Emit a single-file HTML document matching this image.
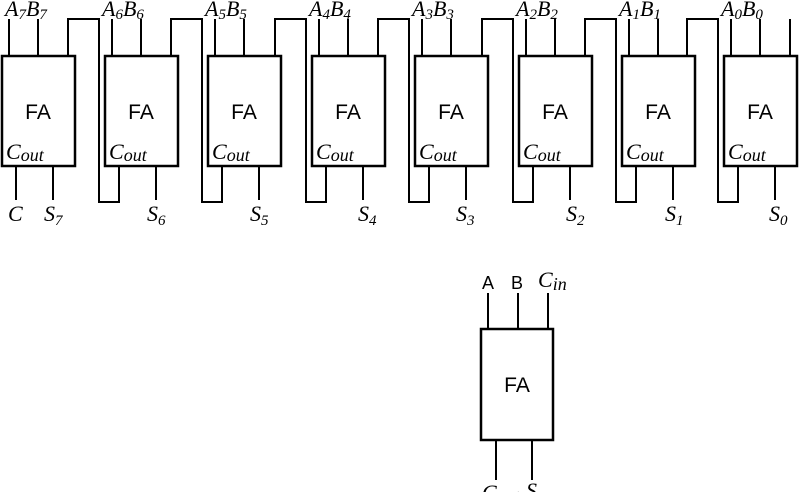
<!DOCTYPE html>
<html><head><meta charset="utf-8"><style>
html,body{margin:0;padding:0;background:#fff;}
svg{display:block;}
.l{stroke:#000;stroke-width:2;fill:none;}
.r{stroke:#000;stroke-width:2.5;fill:#fff;}
.m{font-family:"Liberation Serif",serif;font-style:italic;font-size:22px;}
.s{font-size:15px;}
.o{font-size:18px;}
.fa{font-family:"Liberation Sans",sans-serif;font-size:21px;}
</style></head><body>
<svg width="800" height="492" viewBox="0 0 800 492" xmlns="http://www.w3.org/2000/svg">
<g class="l">
<path d="M9 19V56M38 19V56M16 166V200M53 166V200"/>
<path d="M112 19V56M141 19V56M156 166V200M119 166V202H99V19H68V56"/>
<path d="M215 19V56M244 19V56M259 166V200M222 166V202H202V19H171V56"/>
<path d="M319 19V56M348 19V56M363 166V200M326 166V202H306V19H275V56"/>
<path d="M422 19V56M451 19V56M466 166V200M429 166V202H409V19H378V56"/>
<path d="M526 19V56M555 19V56M570 166V200M533 166V202H513V19H482V56"/>
<path d="M629 19V56M658 19V56M673 166V200M636 166V202H616V19H585V56"/>
<path d="M731 19V56M760 19V56M775 166V200M738 166V202H718V19H687V56M790 19V56"/>
<path d="M488 293V329M518 293V329M548 293V329M496 440V480M532 440V480"/>
</g>
<g class="r">
<rect x="2" y="56" width="73" height="110"/>
<rect x="105" y="56" width="73" height="110"/>
<rect x="208" y="56" width="73" height="110"/>
<rect x="312" y="56" width="73" height="110"/>
<rect x="415" y="56" width="73" height="110"/>
<rect x="519" y="56" width="73" height="110"/>
<rect x="622" y="56" width="73" height="110"/>
<rect x="724" y="56" width="73" height="110"/>
<rect x="481" y="329" width="72" height="111"/>
</g>
<g class="fa" text-anchor="middle">
<text x="38" y="119">FA</text><text x="141" y="119">FA</text><text x="244" y="119">FA</text><text x="348" y="119">FA</text>
<text x="451" y="119">FA</text><text x="555" y="119">FA</text><text x="658" y="119">FA</text><text x="760" y="119">FA</text>
<text x="517" y="392">FA</text>
<text x="488" y="289" style="font-size:18px">A</text><text x="517" y="289" style="font-size:18px">B</text>
</g>
<g class="m">
<text x="5" y="16">A<tspan class="s" dy="3">7</tspan><tspan dy="-3">B</tspan><tspan class="s" dy="3">7</tspan></text>
<text x="102" y="16">A<tspan class="s" dy="3">6</tspan><tspan dy="-3">B</tspan><tspan class="s" dy="3">6</tspan></text>
<text x="205" y="16">A<tspan class="s" dy="3">5</tspan><tspan dy="-3">B</tspan><tspan class="s" dy="3">5</tspan></text>
<text x="309" y="16">A<tspan class="s" dy="3">4</tspan><tspan dy="-3">B</tspan><tspan class="s" dy="3">4</tspan></text>
<text x="412" y="16">A<tspan class="s" dy="3">3</tspan><tspan dy="-3">B</tspan><tspan class="s" dy="3">3</tspan></text>
<text x="516" y="16">A<tspan class="s" dy="3">2</tspan><tspan dy="-3">B</tspan><tspan class="s" dy="3">2</tspan></text>
<text x="619" y="16">A<tspan class="s" dy="3">1</tspan><tspan dy="-3">B</tspan><tspan class="s" dy="3">1</tspan></text>
<text x="721" y="16">A<tspan class="s" dy="3">0</tspan><tspan dy="-3">B</tspan><tspan class="s" dy="3">0</tspan></text>
<text x="6" y="159">C<tspan class="o" dy="2">out</tspan></text>
<text x="109" y="159">C<tspan class="o" dy="2">out</tspan></text>
<text x="212" y="159">C<tspan class="o" dy="2">out</tspan></text>
<text x="316" y="159">C<tspan class="o" dy="2">out</tspan></text>
<text x="419" y="159">C<tspan class="o" dy="2">out</tspan></text>
<text x="523" y="159">C<tspan class="o" dy="2">out</tspan></text>
<text x="626" y="159">C<tspan class="o" dy="2">out</tspan></text>
<text x="728" y="159">C<tspan class="o" dy="2">out</tspan></text>
<text x="8" y="221">C</text>
<text x="44" y="221">S<tspan class="s" dy="4">7</tspan></text>
<text x="147" y="221">S<tspan class="s" dy="4">6</tspan></text>
<text x="250" y="221">S<tspan class="s" dy="4">5</tspan></text>
<text x="358" y="221">S<tspan class="s" dy="4">4</tspan></text>
<text x="456" y="221">S<tspan class="s" dy="4">3</tspan></text>
<text x="566" y="221">S<tspan class="s" dy="4">2</tspan></text>
<text x="665" y="221">S<tspan class="s" dy="4">1</tspan></text>
<text x="769" y="221">S<tspan class="s" dy="4">0</tspan></text>
<text x="538" y="287">C<tspan class="o" dy="3">in</tspan></text>
<text x="482" y="500">C<tspan class="o" dy="2">out</tspan></text>
<text x="526" y="498">S</text>
</g>
</svg>
</body></html>
